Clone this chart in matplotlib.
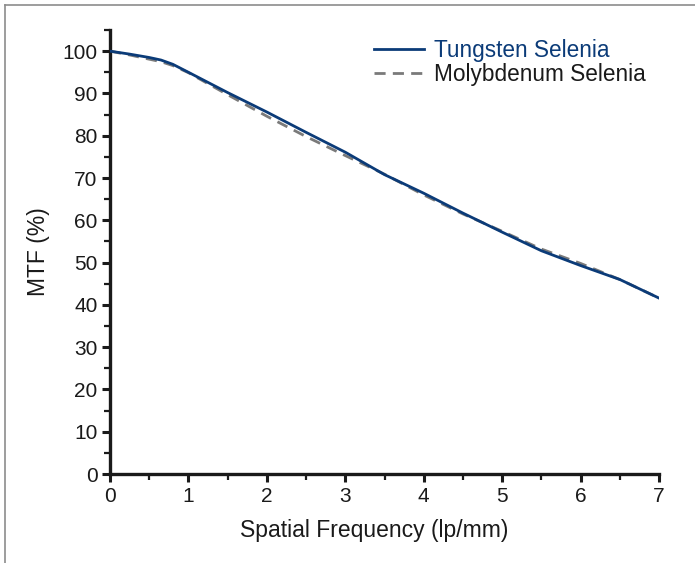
import matplotlib
matplotlib.use("Agg")
import matplotlib.pyplot as plt
from matplotlib.lines import Line2D
from matplotlib.ticker import MultipleLocator

plt.rcParams['font.family'] = ['Liberation Sans', 'DejaVu Sans']

freq = [0, 0.25, 0.5, 0.65, 0.8, 1, 1.25, 1.5, 2, 2.5, 3, 3.5, 4, 4.5, 5, 5.5, 6, 6.5, 7]
tungsten = [100, 99.3, 98.5, 97.9, 96.9, 95.0, 92.6, 90.2, 85.6, 80.8, 76.1, 70.8, 66.4, 61.7, 57.2, 52.8, 49.3, 46.0, 41.6]
molybdenum = [100, 99.1, 98.1, 97.5, 96.6, 94.9, 92.3, 89.7, 84.6, 79.8, 75.3, 70.9, 66.0, 61.5, 57.4, 53.2, 49.8, 46.0, 41.6]

navy = '#0b3b78'
grey = '#7a7a7a'

fig = plt.figure(figsize=(6.95, 5.63), dpi=100)
ax = fig.add_axes([0.1583, 0.158, 0.79, 0.7887])

ax.plot(freq, tungsten, color=navy, lw=2, label='Tungsten Selenia', zorder=3)
ax.plot(freq, molybdenum, color=grey, lw=2, ls=(0, (4, 2.6)), label='Molybdenum Selenia', zorder=2)

ax.set_xlim(0, 7)
ax.set_ylim(0, 105)
ax.xaxis.set_major_locator(MultipleLocator(1))
ax.xaxis.set_minor_locator(MultipleLocator(0.5))
ax.yaxis.set_minor_locator(MultipleLocator(5))
ax.set_yticks(range(0, 101, 10))

for side in ['top', 'right']:
    ax.spines[side].set_visible(False)
for side in ['left', 'bottom']:
    ax.spines[side].set_linewidth(2.4)
    ax.spines[side].set_color('#1a1a1a')

ax.tick_params(which='major', direction='out', length=6, width=2.2, color='#1a1a1a',
               labelsize=15, labelcolor='#1a1a1a', pad=3)
ax.tick_params(which='minor', direction='out', length=4, width=1.6, color='#1a1a1a')

ax.set_xlabel('Spatial Frequency (lp/mm)', fontsize=16.5, color='#1a1a1a', labelpad=10, x=0.482)
ax.set_ylabel('MTF (%)', fontsize=16.5, color='#1a1a1a', labelpad=9)

leg = ax.legend(loc='upper right', bbox_to_anchor=(1.0, 1.01), frameon=False, fontsize=16.3,
                handlelength=2.2, handletextpad=0.45, labelspacing=0.05, borderaxespad=0.2)
leg.get_texts()[0].set_color(navy)
leg.get_texts()[1].set_color('#1a1a1a')

# thin grey frame on the top and left edges of the image
fig.add_artist(Line2D([5 / 695, 1], [1 - 5 / 563, 1 - 5 / 563], transform=fig.transFigure, color='#8c8c8c', lw=1.2))
fig.add_artist(Line2D([5 / 695, 5 / 695], [0, 1 - 5 / 563], transform=fig.transFigure, color='#8c8c8c', lw=1.2))

fig.savefig('out.png', dpi=100)
